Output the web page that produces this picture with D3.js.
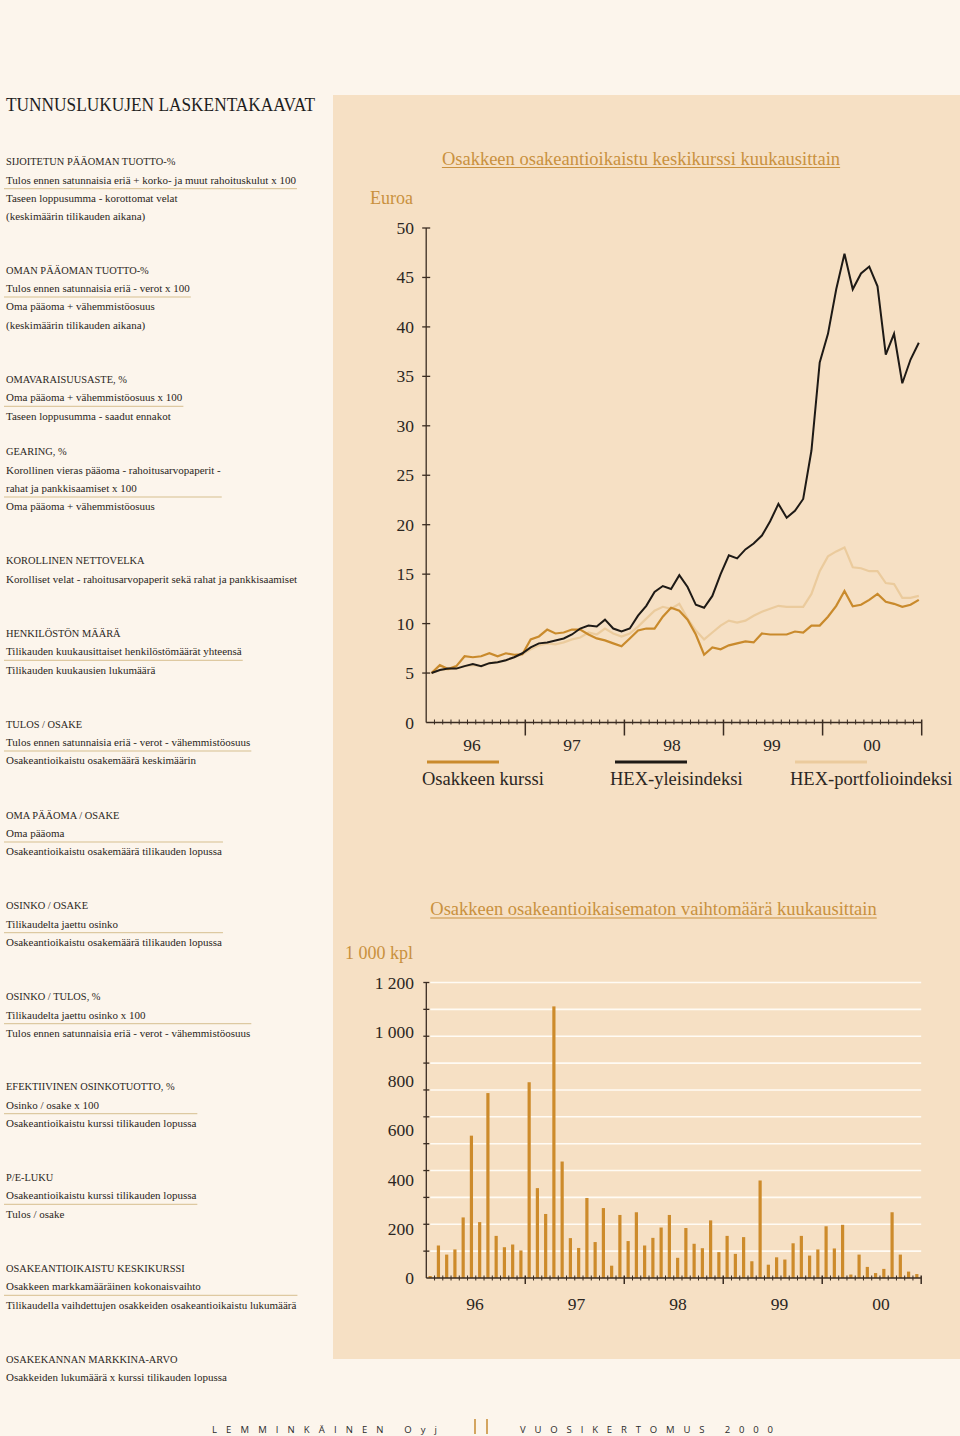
<!DOCTYPE html>
<html><head><meta charset="utf-8">
<script src="https://cdn.jsdelivr.net/npm/d3@7"></script>
<style>html,body{margin:0;padding:0;background:#FCF5EC}svg{display:block}</style>
</head><body>
<svg id="c" width="960" height="1436"></svg>
<script>
// ---------- DATA ----------
const years = ["96","97","98","99","00"];
const priceTicks = [0,5,10,15,20,25,30,35,40,45,50];
const volumeTicks = [0,200,400,600,800,1000,1200];
const volumeTickLabels = ["0","200","400","600","800","1 000","1 200"];
const seriesNames = ["Osakkeen kurssi","HEX-yleisindeksi","HEX-portfolioindeksi"];

// monthly, Jan 1996 - Dec 2000 (euro)
const kurssi = [5.0,5.8,5.4,5.7,6.7,6.6,6.7,7.0,6.7,7.0,6.85,6.9,
  8.4,8.7,9.4,9.0,9.1,9.4,9.4,8.9,8.5,8.3,8.0,7.7,
  8.5,9.3,9.5,9.5,10.7,11.6,11.3,10.4,8.9,6.85,7.6,7.4,
  7.8,8.0,8.2,8.1,9.0,8.9,8.9,8.9,9.2,9.1,9.8,9.8,
  10.7,11.8,13.3,11.75,11.9,12.4,13.0,12.2,12.0,11.7,11.9,12.4];
const yleisindeksi = [5.0,5.3,5.45,5.45,5.7,5.9,5.7,6.0,6.1,6.3,6.6,7.0,
  7.6,8.0,8.1,8.3,8.5,8.9,9.5,9.8,9.7,10.4,9.5,9.2,
  9.5,10.8,11.8,13.2,13.8,13.5,14.9,13.7,11.9,11.6,12.8,15.0,
  16.9,16.6,17.5,18.1,18.9,20.35,22.1,20.7,21.4,22.6,27.5,36.4,
  39.3,43.8,47.4,43.8,45.4,46.1,44.1,37.2,39.3,34.3,36.7,38.4];
const portfolioindeksi = [5.0,5.3,5.4,5.5,5.7,5.8,5.7,6.0,6.1,6.3,6.6,6.9,
  7.4,7.8,8.0,7.9,8.1,8.4,8.6,9.1,8.9,9.5,9.0,8.7,
  9.0,9.7,10.5,11.3,11.7,11.5,12.0,10.5,9.3,8.4,9.1,9.8,
  10.3,10.1,10.3,10.8,11.2,11.5,11.8,11.7,11.7,11.7,13.0,15.3,
  16.8,17.3,17.7,15.7,15.6,15.3,15.3,14.1,14.0,12.6,12.6,12.8];
// monthly trading volume, 1 000 shares
const vaihto = [8,132,95,116,246,578,227,751,171,125,136,112,
  795,365,260,1103,473,162,122,325,146,284,50,256,
  150,267,132,163,205,256,82,203,139,121,234,105,
  171,98,166,68,396,54,84,75,141,171,91,116,
  210,120,216,14,95,45,20,37,267,95,26,16];

const heading = "TUNNUSLUKUJEN LASKENTAKAAVAT";
const formulaTitles = ["SIJOITETUN PÄÄOMAN TUOTTO-%","OMAN PÄÄOMAN TUOTTO-%","OMAVARAISUUSASTE, %","GEARING, %",
  "KOROLLINEN NETTOVELKA","HENKILÖSTÖN MÄÄRÄ","TULOS / OSAKE","OMA PÄÄOMA / OSAKE","OSINKO / OSAKE",
  "OSINKO / TULOS, %","EFEKTIIVINEN OSINKOTUOTTO, %","P/E-LUKU","OSAKEANTIOIKAISTU KESKIKURSSI","OSAKEKANNAN MARKKINA-ARVO"];
const formulaNumerators = [
  ["Tulos ennen satunnaisia eriä + korko- ja muut rahoituskulut x 100"],
  ["Tulos ennen satunnaisia eriä -  verot x 100"],
  ["Oma pääoma + vähemmistöosuus x 100"],
  ["Korollinen vieras pääoma - rahoitusarvopaperit -","rahat ja pankkisaamiset x 100"],
  ["Korolliset velat - rahoitusarvopaperit sekä rahat ja pankkisaamiset"],
  ["Tilikauden kuukausittaiset henkilöstömäärät yhteensä"],
  ["Tulos ennen satunnaisia eriä -  verot - vähemmistöosuus"],
  ["Oma pääoma"],
  ["Tilikaudelta jaettu osinko"],
  ["Tilikaudelta jaettu osinko x 100"],
  ["Osinko / osake x 100"],
  ["Osakeantioikaistu kurssi tilikauden lopussa"],
  ["Osakkeen markkamääräinen kokonaisvaihto"],
  ["Osakkeiden lukumäärä x kurssi tilikauden lopussa"]];
const formulaDenominators = [
  ["Taseen loppusumma - korottomat velat","(keskimäärin tilikauden aikana)"],
  ["Oma pääoma + vähemmistöosuus","(keskimäärin tilikauden aikana)"],
  ["Taseen loppusumma - saadut ennakot"],
  ["Oma pääoma + vähemmistöosuus"],
  [],
  ["Tilikauden kuukausien lukumäärä"],
  ["Osakeantioikaistu osakemäärä keskimäärin"],
  ["Osakeantioikaistu osakemäärä tilikauden lopussa"],
  ["Osakeantioikaistu osakemäärä tilikauden lopussa"],
  ["Tulos ennen satunnaisia eriä -  verot - vähemmistöosuus"],
  ["Osakeantioikaistu kurssi tilikauden lopussa"],
  ["Tulos / osake"],
  ["Tilikaudella vaihdettujen osakkeiden osakeantioikaistu lukumäärä"],
  []];

// ---------- STYLE / LAYOUT ----------
const SERIF = "'Liberation Serif','Times New Roman',serif";
const SANS = "'Open Sans','DejaVu Sans',sans-serif";
const C = {bg:"#FCF5EC", panel:"#F6E0C4", gold:"#C9913E", line1:"#C98A2C", line2:"#1E1A16", line3:"#EBCB9D",
  bar:"#CD8B2B", axis:"#3A2C22", text:"#2B2622", rule:"#D6BF8F"};
const svg = d3.select("#c");
svg.append("rect").attr("width",960).attr("height",1436).attr("fill",C.bg);
svg.append("rect").attr("x",333).attr("y",95).attr("width",627).attr("height",1264).attr("fill",C.panel);

// ---------- LEFT COLUMN ----------
svg.append("text").attr("x",6).attr("y",111).attr("font-family",SERIF).attr("font-size",18.5)
  .attr("fill","#1E1E1E").attr("textLength",309).attr("lengthAdjust","spacingAndGlyphs").text(heading);
const blockY = [161.7,270,379.3,451.7,560.7,633.3,724,815,905.7,996.7,1086.7,1177.3,1268.3,1359];
const LS = 18.3;
formulaTitles.forEach((title,k)=>{
  const y0 = blockY[k];
  const g = svg.append("g").attr("font-family",SERIF).attr("fill",C.text).style("white-space","pre");
  const num = formulaNumerators[k], den = formulaDenominators[k];
  const lines = [title, ...num, ...den];
  let maxW = 0;
  lines.forEach((s,j)=>{
    const t = g.append("text").attr("x",6).attr("y",y0 + j*LS + 3.7)
      .attr("font-size", j===0 ? 10.4 : 11).text(s);
    if (j>0) maxW = Math.max(maxW, t.node().getComputedTextLength());
  });
  if (den.length) {
    const uy = y0 + num.length*LS + 8.7;
    g.append("line").attr("x1",4).attr("x2",7+maxW).attr("y1",uy).attr("y2",uy)
      .attr("stroke",C.rule).attr("stroke-width",1);
  }
});

// helper for underlined gold titles
function goldTitle(txt, cx, by, size){
  const t = svg.append("text").attr("x",cx).attr("y",by).attr("text-anchor","middle")
    .attr("font-family",SERIF).attr("font-size",size).attr("fill",C.gold).text(txt);
  const w = t.node().getComputedTextLength();
  svg.append("line").attr("x1",cx-w/2).attr("x2",cx+w/2).attr("y1",by+3).attr("y2",by+3)
    .attr("stroke",C.gold).attr("stroke-width",1);
}

// ---------- CHART 1: price lines ----------
goldTitle("Osakkeen osakeantioikaistu keskikurssi kuukausittain", 641, 164.5, 18.5);
svg.append("text").attr("x",413).attr("y",204).attr("text-anchor","end").attr("font-family",SERIF)
  .attr("font-size",18).attr("fill",C.gold).text("Euroa");

const x1 = d3.scaleLinear().domain([0,60]).range([426.2,921.7]);
const y1 = d3.scaleLinear().domain([0,50]).range([722.5,228]);
const ax1 = svg.append("g").attr("stroke",C.axis).attr("stroke-width",1.3);
ax1.append("line").attr("x1",x1(0)).attr("x2",x1(0)).attr("y1",y1(50)).attr("y2",y1(0));
ax1.append("line").attr("x1",x1(0)).attr("x2",x1(60)).attr("y1",y1(0)).attr("y2",y1(0));
priceTicks.forEach(t=>{ if(t>0) ax1.append("line").attr("x1",x1(0)-4).attr("x2",x1(0)+4).attr("y1",y1(t)).attr("y2",y1(t)); });
d3.range(1,61).forEach(m=>{
  const major = m%12===0;
  ax1.append("line").attr("x1",x1(m)).attr("x2",x1(m)).attr("y1",y1(0)-3).attr("y2",y1(0)+(major?13:2))
    .attr("stroke-width",major?1.5:1);
});
svg.append("g").attr("font-family",SERIF).attr("font-size",17.5).attr("fill",C.text).attr("text-anchor","end")
  .selectAll("text").data(priceTicks).join("text").attr("x",414).attr("y",t=>y1(t)+6).text(t=>t);
const yl1 = d3.scalePoint().domain(years).range([472,872]);
svg.append("g").attr("font-family",SERIF).attr("font-size",17.5).attr("fill",C.text).attr("text-anchor","middle")
  .selectAll("text").data(years).join("text").attr("x",d=>yl1(d)).attr("y",751).text(d=>d);

const lineGen = d3.line().x((d,i)=>x1(i+0.65)).y(d=>y1(d));
[[portfolioindeksi,C.line3,2.2],[kurssi,C.line1,2.2],[yleisindeksi,C.line2,2]].forEach(([s,c,w])=>{
  svg.append("path").attr("d",lineGen(s)).attr("fill","none").attr("stroke",c).attr("stroke-width",w)
    .attr("stroke-linejoin","miter");
});

// legend
const legX = [427,615,795], legTX = [422,610,790], legC = [C.line1,C.line2,C.line3];
seriesNames.forEach((n,k)=>{
  svg.append("line").attr("x1",legX[k]).attr("x2",legX[k]+72).attr("y1",762).attr("y2",762)
    .attr("stroke",legC[k]).attr("stroke-width",3);
  svg.append("text").attr("x",legTX[k]).attr("y",785).attr("font-family",SERIF).attr("font-size",18.5)
    .attr("fill",C.text).text(n);
});

// ---------- CHART 2: volume bars ----------
goldTitle("Osakkeen osakeantioikaisematon vaihtomäärä kuukausittain", 653.5, 915, 18.5);
svg.append("text").attr("x",413).attr("y",959).attr("text-anchor","end").attr("font-family",SERIF)
  .attr("font-size",18).attr("fill",C.gold).text("1 000 kpl");

const x2 = d3.scaleLinear().domain([0,60]).range([426.3,921.2]);
const y2 = d3.scaleLinear().domain([0,1200]).range([1278,982.5]);
const gridVals = d3.range(1,12).map(k=>k*1200/11);
svg.append("g").attr("stroke","#FFFBF4").attr("stroke-width",1.6).selectAll("line").data(gridVals).join("line")
  .attr("x1",x2(0)+4).attr("x2",x2(60)).attr("y1",d=>y2(d)).attr("y2",d=>y2(d));
svg.append("g").attr("fill",C.bar).selectAll("rect").data(vaihto).join("rect")
  .attr("x",(d,i)=>x2(i+0.47)-1.6).attr("width",3.2).attr("y",d=>y2(d)).attr("height",d=>y2(0)-y2(d));
const ax2 = svg.append("g").attr("stroke",C.axis).attr("stroke-width",1.3);
ax2.append("line").attr("x1",x2(0)).attr("x2",x2(0)).attr("y1",y2(1200)).attr("y2",y2(0));
ax2.append("line").attr("x1",x2(0)).attr("x2",x2(60)).attr("y1",y2(0)).attr("y2",y2(0));
gridVals.forEach(v=>ax2.append("line").attr("x1",x2(0)-3).attr("x2",x2(0)+3).attr("y1",y2(v)).attr("y2",y2(v)));
d3.range(1,61).forEach(m=>{
  const major = m%12===0;
  ax2.append("line").attr("x1",x2(m)).attr("x2",x2(m)).attr("y1",y2(0)-2.5).attr("y2",y2(0)+(major?6:2.5))
    .attr("stroke-width",major?1.5:1);
});
svg.append("g").attr("font-family",SERIF).attr("font-size",17.5).attr("fill",C.text).attr("text-anchor","end")
  .selectAll("text").data(volumeTicks).join("text").attr("x",414).attr("y",t=>y2(t)+6)
  .text((t,i)=>volumeTickLabels[i]);
const yl2 = d3.scalePoint().domain(years).range([475,881]);
svg.append("g").attr("font-family",SERIF).attr("font-size",17.5).attr("fill",C.text).attr("text-anchor","middle")
  .selectAll("text").data(years).join("text").attr("x",d=>yl2(d)).attr("y",1310).text(d=>d);

// ---------- FOOTER ----------
svg.append("text").attr("x",212).attr("y",1433).attr("font-family",SANS).attr("font-size",9.5).attr("fill","#2B2B2B")
  .attr("textLength",225).attr("lengthAdjust","spacing").text("LEMMINKÄINEN  Oyj");
svg.append("text").attr("x",520).attr("y",1433).attr("font-family",SANS).attr("font-size",9.5).attr("fill","#2B2B2B")
  .attr("textLength",253).attr("lengthAdjust","spacing").text("VUOSIKERTOMUS  2000");
[475,487].forEach(xx=>svg.append("line").attr("x1",xx).attr("x2",xx).attr("y1",1419).attr("y2",1434)
  .attr("stroke",C.gold).attr("stroke-width",1.6));
</script>
</body></html>
